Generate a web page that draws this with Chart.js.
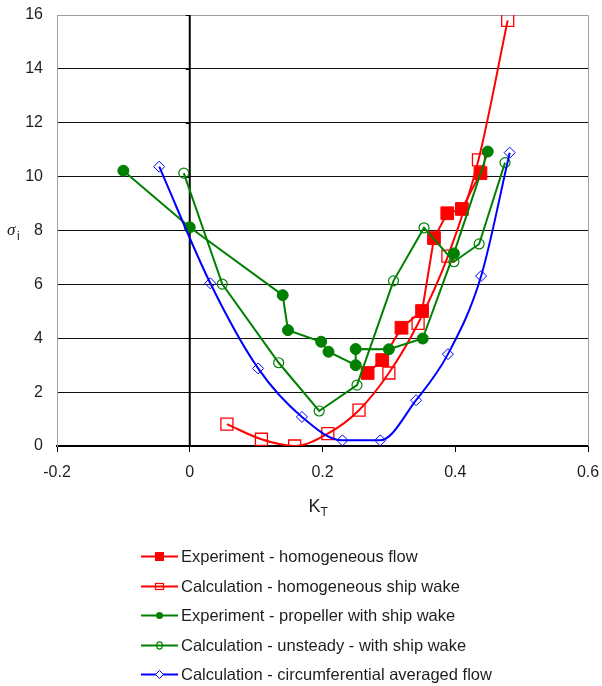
<!DOCTYPE html>
<html>
<head>
<meta charset="utf-8">
<script src="https://cdn.jsdelivr.net/npm/chart.js@4.4.1/dist/chart.umd.min.js"></script>
<style>
    body { margin: 0; background: #fff; }
    #wrap { position: relative; width: 602px; height: 686px; }
    #legend { position: absolute; left: 141px; top: 542px; font-family: "Liberation Sans", Arial, sans-serif; font-size: 16.5px; color: #1e1e1e; }
    .fila { display: flex; align-items: center; height: 29.5px; }
    .fila svg { margin-right: 2px; }
</style>
</head>
<body>
<div id="wrap">
    <canvas id="grafico" width="602" height="686"></canvas>
    <div id="legend"></div>
</div>
<script>
'use strict';

// datos
const etiquetas = [
    "Experiment - homogeneous flow",
    "Calculation - homogeneous ship wake",
    "Experiment - propeller with ship wake",
    "Calculation - unsteady - with ship wake",
    "Calculation - circumferential averaged flow"
];

const expHomKT = [0.268, 0.290, 0.319, 0.350, 0.368, 0.388, 0.410, 0.438];
const expHomSigma = [2.71, 3.19, 4.39, 5.01, 7.72, 8.64, 8.80, 10.13];

const calHomKT = [0.056, 0.108, 0.158, 0.208, 0.255, 0.300, 0.344, 0.389, 0.435, 0.479];
const calHomSigma = [0.81, 0.25, 0.0, 0.46, 1.33, 2.71, 4.55, 7.05, 10.62, 15.8];

const expWakeKT = [-0.100, 0.000, 0.140, 0.148, 0.198, 0.209, 0.250, 0.250, 0.300, 0.351, 0.398, 0.449];
const expWakeSigma = [10.22, 8.12, 5.60, 4.30, 3.87, 3.50, 3.00, 3.60, 3.59, 3.99, 7.15, 10.93];

const calUnsKT = [-0.009, 0.049, 0.134, 0.195, 0.252, 0.307, 0.353, 0.398, 0.436, 0.475];
const calUnsSigma = [10.13, 6.01, 3.09, 1.30, 2.26, 6.13, 8.10, 6.84, 7.50, 10.52];

const calCircKT = [-0.046, 0.031, 0.103, 0.169, 0.230, 0.287, 0.341, 0.389, 0.439, 0.482];
const calCircSigma = [10.37, 6.04, 2.88, 1.08, 0.21, 0.21, 1.70, 3.41, 6.31, 10.89];

const ticksX = [-0.2, 0, 0.2, 0.4, 0.6];
const ticksY = [0, 2, 4, 6, 8, 10, 12, 14, 16];

const ROJO = "#ff0000";
const VERDE = "#008000";
const AZUL = "#0000ff";

let puntos = (xs, ys) => {
    let lista = [];
    for (let i = 0; i < xs.length; i++) {
        lista.push({ x: xs[i], y: ys[i] });
    }
    return lista;
}

// borde gris del area y eje vertical en x=0
const ejesPlugin = {
    id: 'ejes',
    beforeDatasetsDraw(chart) {
        const ctx = chart.ctx;
        const a = chart.chartArea;
        const x0 = chart.scales.x.getPixelForValue(0);
        ctx.save();
        ctx.strokeStyle = "#a0a0a0";
        ctx.lineWidth = 1;
        ctx.beginPath();
        ctx.moveTo(a.left, a.top + 0.5);
        ctx.lineTo(a.right + 0.5, a.top + 0.5);
        ctx.lineTo(a.right + 0.5, a.bottom);
        ctx.stroke();

        ctx.strokeStyle = "#000";
        ctx.lineWidth = 2;
        ctx.beginPath();
        ctx.moveTo(x0, a.top);
        ctx.lineTo(x0, a.bottom);
        ctx.stroke();
        ctx.lineWidth = 1;
        for (let i = 0; i < ticksY.length; i++) {
            let py = Math.round(chart.scales.y.getPixelForValue(ticksY[i])) + 0.5;
            ctx.beginPath();
            ctx.moveTo(x0 - 4, py);
            ctx.lineTo(x0, py);
            ctx.stroke();
        }
        ctx.restore();
    },
    afterDraw(chart) {
        const ctx = chart.ctx;
        const a = chart.chartArea;
        ctx.save();
        ctx.fillStyle = "#1e1e1e";
        ctx.textBaseline = "alphabetic";
        // sigma_i
        let yMid = chart.scales.y.getPixelForValue(8);
        ctx.font = "italic 17px 'Liberation Serif', serif";
        ctx.fillText("σ", 7, yMid + 4);
        ctx.font = "12px 'Liberation Sans', Arial, sans-serif";
        ctx.fillText("i", 17, yMid + 9);
        // K_T
        let xMid = (a.left + a.right) / 2;
        ctx.font = "18px 'Liberation Sans', Arial, sans-serif";
        ctx.fillText("K", xMid - 14, 512);
        ctx.font = "12px 'Liberation Sans', Arial, sans-serif";
        ctx.fillText("T", xMid - 2, 516);
        ctx.restore();
    }
};

const series = [
    { label: etiquetas[0], data: puntos(expHomKT, expHomSigma), borderColor: ROJO, backgroundColor: ROJO,
      pointStyle: 'rect', pointRadius: 9, pointBorderWidth: 1, tension: 0 },
    { label: etiquetas[1], data: puntos(calHomKT, calHomSigma), borderColor: ROJO, backgroundColor: 'rgba(0,0,0,0)',
      pointStyle: 'rect', pointRadius: 8.5, pointBorderWidth: 1.3, cubicInterpolationMode: 'monotone' },
    { label: etiquetas[2], data: puntos(expWakeKT, expWakeSigma), borderColor: VERDE, backgroundColor: VERDE,
      pointStyle: 'circle', pointRadius: 5.5, pointBorderWidth: 1, tension: 0 },
    { label: etiquetas[3], data: puntos(calUnsKT, calUnsSigma), borderColor: VERDE, backgroundColor: 'rgba(0,0,0,0)',
      pointStyle: 'circle', pointRadius: 5, pointBorderWidth: 1.2, tension: 0 },
    { label: etiquetas[4], data: puntos(calCircKT, calCircSigma), borderColor: AZUL, backgroundColor: 'rgba(0,0,0,0)',
      pointStyle: 'rectRot', pointRadius: 5.5, pointBorderWidth: 1, cubicInterpolationMode: 'monotone' }
];

for (let i = 0; i < series.length; i++) {
    series[i].showLine = true;
    series[i].borderWidth = 2;
    series[i].pointBorderColor = series[i].borderColor;
    series[i].pointBackgroundColor = series[i].backgroundColor;
    series[i].pointHoverRadius = series[i].pointRadius;
}

// el relleno que pide cada eje se anula, manda layout.padding
let sinRelleno = (s) => {
    s.paddingTop = 0;
    s.paddingBottom = 0;
    s.paddingLeft = 0;
    s.paddingRight = 0;
}

// se dibuja en orden inverso para que la serie roja quede encima
new Chart(document.getElementById("grafico"), {
    type: 'scatter',
    data: { datasets: series.slice().reverse() },
    options: {
        responsive: false,
        animation: false,
        layout: { padding: { left: 0, top: 15, right: 14, bottom: 200 } },
        plugins: { legend: { display: false }, tooltip: { enabled: false } },
        scales: {
            x: {
                type: 'linear', min: -0.2, max: 0.6,
                afterFit: (s) => { s.height = 40; sinRelleno(s); },
                afterBuildTicks: (s) => { s.ticks = ticksX.map(v => ({ value: v })); },
                grid: { drawOnChartArea: false, drawTicks: true, tickLength: 6, color: '#000', lineWidth: 1 },
                border: { color: '#000', width: 2 },
                ticks: { padding: 11, color: '#1e1e1e', font: { family: "'Liberation Sans', Arial, sans-serif", size: 16 },
                         maxRotation: 0, callback: (v) => String(Math.round(v * 10) / 10) }
            },
            y: {
                type: 'linear', min: 0, max: 16,
                afterFit: (s) => { s.width = 57; sinRelleno(s); },
                afterBuildTicks: (s) => { s.ticks = ticksY.map(v => ({ value: v })); },
                grid: { color: '#111', lineWidth: 1, drawTicks: false },
                border: { color: '#a0a0a0', width: 1 },
                ticks: { padding: 14, color: '#1e1e1e', font: { family: "'Liberation Sans', Arial, sans-serif", size: 16 } }
            }
        }
    },
    plugins: [ejesPlugin]
});

// leyenda en html, una fila por serie
let simbolo = (i) => {
    let s = series[i];
    let marca = "";
    if (i == 0) marca = `<rect x="14" y="3" width="9" height="9" fill="${ROJO}"/>`;
    if (i == 1) marca = `<rect x="14.5" y="4.5" width="8" height="6" fill="none" stroke="${ROJO}" stroke-width="1.2"/>`;
    if (i == 2) marca = `<circle cx="18.5" cy="7.5" r="3.5" fill="${VERDE}"/>`;
    if (i == 3) marca = `<ellipse cx="18.5" cy="7.5" rx="2.8" ry="3.6" fill="none" stroke="${VERDE}" stroke-width="1.2"/>`;
    if (i == 4) marca = `<path d="M18.5 3.5 L22.5 7.5 L18.5 11.5 L14.5 7.5 Z" fill="#fff" stroke="${AZUL}" stroke-width="1"/>`;
    return `<svg width="38" height="15"><line x1="0" y1="7.5" x2="37" y2="7.5" stroke="${s.borderColor}" stroke-width="2"/>` + marca + `</svg>`;
}

for (let i = 0; i < etiquetas.length; i++) {
    let fila =
        `<div class="fila">` + simbolo(i) + `<span>` + etiquetas[i] + `</span></div>`;
    document.querySelector("#legend").insertAdjacentHTML('beforeend', fila);
}
</script>
</body>
</html>
